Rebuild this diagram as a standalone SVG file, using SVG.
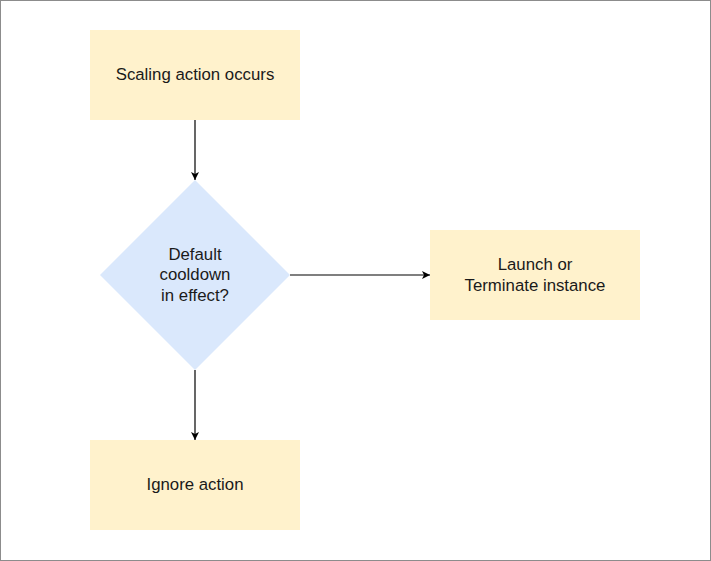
<svg xmlns="http://www.w3.org/2000/svg" width="711" height="561" viewBox="0 0 711 561">
<defs>
<style>
.box{fill:#fff2cc;stroke:none}
.dec{fill:#dae8fc;stroke:none}
.t{font-family:"Liberation Sans",Arial,sans-serif;font-size:16.8px;fill:#1a1a1a;text-anchor:middle}
.c{stroke:#000;stroke-width:1.2;fill:none}
</style>
<marker id="ah" viewBox="0 0 10 10" refX="10" refY="5" markerWidth="8" markerHeight="8" markerUnits="userSpaceOnUse" orient="auto">
<path d="M0,0 L10,5 L0,10 L2.5,5 Z" fill="#000"/>
</marker>
</defs>
<rect x="0.5" y="0.5" width="710" height="560" fill="#fff" stroke="#8c8c8c" stroke-width="1"/>
<g id="connectors">
<line class="c" x1="195" y1="120" x2="195" y2="180" marker-end="url(#ah)"/>
<line class="c" x1="290" y1="275" x2="430" y2="275" marker-end="url(#ah)"/>
<line class="c" x1="195" y1="370" x2="195" y2="440" marker-end="url(#ah)"/>
</g>
<g id="scaling">
<rect class="box" x="90" y="30" width="210" height="90"/>
<text class="t" x="195" y="80">Scaling action occurs</text>
</g>
<g id="decision">
<polygon class="dec" points="195,180 290,275 195,370 100,275"/>
<text class="t" x="195" y="259.5">Default</text>
<text class="t" x="195" y="280">cooldown</text>
<text class="t" x="195" y="300.5">in effect?</text>
</g>
<g id="launch">
<rect class="box" x="430" y="230" width="210" height="90"/>
<text class="t" x="535" y="270">Launch or</text>
<text class="t" x="535" y="290.5">Terminate instance</text>
</g>
<g id="ignore">
<rect class="box" x="90" y="440" width="210" height="90"/>
<text class="t" x="195" y="490">Ignore action</text>
</g>
</svg>
